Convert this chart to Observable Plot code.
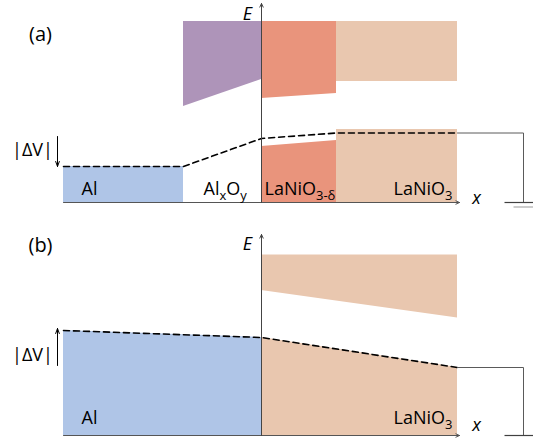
<!DOCTYPE html>
<html>
<head>
<meta charset="utf-8">
<script src="https://cdn.jsdelivr.net/npm/d3@7"></script>
<script src="https://cdn.jsdelivr.net/npm/@observablehq/plot@0.6"></script>
<style>
  html, body { margin: 0; padding: 0; background: #fff; }
  #chart svg { display: block; }
</style>
</head>
<body>
<div id="chart"></div>
<script>
// ---------- Data (x: position, arb. units; E: energy, arb. units) ----------
// Panel (a): Al / AlxOy / LaNiO3-δ / LaNiO3
const layersA = ["Al", "AlxOy", "LaNiO3-δ", "LaNiO3"];
const boundsA = [-19.8, -7.8, 0, 7.5, 19.6];           // layer boundaries along x
// lower (filled) states: [E at left edge, E at right edge]; null = none
const lowerTopA = [[3.6, 3.6], null, [5.6, 6.2], [7.3, 7.3]];
// upper bands: bottom [left,right], top [left,right]
const upperBottomA = [null, [9.6, 12.3], [10.4, 10.9], [12.1, 12.1]];
const upperTopA = [null, [18.1, 18.1], [18.1, 18.1], [18.1, 18.1]];
const fermiXA = [-19.8, -7.8, 0, 7.5, 19.6];
const fermiEA = [3.6, 3.6, 6.4, 6.95, 6.95];
const dVA = [6.6, 3.6];                                  // |ΔV| arrow from -> to

// Panel (b): Al / LaNiO3
const layersB = ["Al", "LaNiO3"];
const boundsB = [-19.8, 0, 19.6];
const lowerTopB = [[10.5, 9.8], [9.8, 6.8]];
const upperBottomB = [null, [14.5, 11.75]];
const upperTopB = [null, [18.05, 18.05]];
const fermiXB = [-19.8, 0, 19.6];
const fermiEB = [10.5, 9.8, 6.8];
const dVB = [7.0, 10.7];

// Labels
const layerLabelsA = ["Al", "Al_{x}O_{y}", "LaNiO_{3-δ}", "LaNiO_{3}"];
const layerLabelsB = ["Al", "LaNiO_{3}"];

// ---------- Styles ----------
const layerColor = {"Al": "#afc5e7", "AlxOy": "#ae94b9", "LaNiO3-δ": "#e9947c", "LaNiO3": "#e9c7af"};
const FONT = "'Open Sans', Lato, sans-serif";

function bandRows(layers, bounds, lowerTop, upperBottom, upperTop) {
  const rows = [];
  layers.forEach((L, i) => {
    const xs = [bounds[i], bounds[i + 1]];
    if (lowerTop[i]) xs.forEach((x, k) => rows.push({id: L + "-low", layer: L, x, lo: 0, hi: lowerTop[i][k]}));
    if (upperBottom[i]) xs.forEach((x, k) => rows.push({id: L + "-up", layer: L, x, lo: upperBottom[i][k], hi: upperTop[i][k]}));
  });
  return rows;
}

function subscriptify(svg) {
  svg.querySelectorAll("text").forEach(t => {
    const s = t.textContent;
    if (!s.includes("_{")) return;
    t.textContent = "";
    let shifted = false;
    for (const p of s.split(/(_\{[^}]*\})/)) {
      if (!p) continue;
      const ts = document.createElementNS("http://www.w3.org/2000/svg", "tspan");
      if (p.startsWith("_{")) {
        ts.textContent = p.slice(2, -1);
        ts.setAttribute("font-size", "13");
        ts.setAttribute("dy", shifted ? "0" : "5");
        shifted = true;
      } else {
        ts.textContent = p;
        if (shifted) { ts.setAttribute("dy", "-5"); shifted = false; }
      }
      t.appendChild(ts);
    }
  });
}

function panel(opts) {
  const {height, yDomain, rows, fermiX, fermiE, dV, tag, labels, labelE, wireE, eTop, layerLeft, lastRight} = opts;
  const fermi = fermiX.map((x, i) => ({x, E: fermiE[i]}));
  const wire = [{x: lastRight, E: wireE}, {x: 26.2, E: wireE}, {x: 26.2, E: 0}];
  const startLabels = labels.slice(0, -1).map((t, i) => ({t, x: layerLeft[i]}));
  const endLabel = [{t: labels[labels.length - 1], x: layerLeft[labels.length - 1]}];
  const svg = Plot.plot({
    width: 533, height,
    marginTop: 0, marginRight: 0, marginBottom: 0, marginLeft: 0,
    x: {domain: [-26.1, 27.2], axis: null},
    y: {domain: yDomain, axis: null},
    color: {type: "identity"},
    style: {fontFamily: FONT, fontSize: "18px", background: "white", color: "black"},
    marks: [
      Plot.areaY(rows, {x: "x", y1: "lo", y2: "hi", z: "id", fill: d => layerColor[d.layer], curve: "linear"}),
      Plot.line(fermi, {x: "x", y: "E", stroke: "black", strokeWidth: 1.6, strokeDasharray: "6,4"}),
      Plot.line(wire, {x: "x", y: "E", stroke: "#5a5a5a", strokeWidth: 1}),
      Plot.link([{x1: 24.3, x2: 27.2, y: 0}], {x1: "x1", x2: "x2", y1: "y", y2: "y", stroke: "#404040", strokeWidth: 1.2}),
      Plot.link([{x1: 25.2, x2: 27.2, y: -0.45}], {x1: "x1", x2: "x2", y1: "y", y2: "y", stroke: "#aaaaaa", strokeWidth: 1.2}),
      // axes
      Plot.arrow([{x1: -19.8, x2: 19.8, y: 0}], {x1: "x1", x2: "x2", y1: "y", y2: "y", stroke: "#555", strokeWidth: 1, headLength: 6, headAngle: 50}),
      Plot.arrow([{x: 0, y1: 0, y2: eTop}], {x1: "x", x2: "x", y1: "y1", y2: "y2", stroke: "#444", strokeWidth: 1, headLength: 6, headAngle: 50}),
      // |ΔV| arrow
      Plot.arrow([{x: -20.4, y1: dV[0], y2: dV[1]}], {x1: "x", x2: "x", y1: "y1", y2: "y2", stroke: "black", strokeWidth: 1, headLength: 8, headAngle: 40}),
      Plot.text(["|ΔV|"], {x: -22.9, y: labelE.dv, text: d => d, fontSize: 18}),
      Plot.text([tag], {x: -22.1, y: labelE.tag, text: d => d, fontSize: 20}),
      Plot.text(["E"], {x: -1.4, y: labelE.e, text: d => d, fontSize: 18, fontStyle: "italic"}),
      Plot.text(["x"], {x: 21.5, y: labelE.x, text: d => d, fontSize: 18, fontStyle: "italic"}),
      Plot.text(startLabels, {x: "x", y: labelE.layer, text: "t", textAnchor: "start", fontSize: 18}),
      Plot.text(endLabel, {x: "x", y: labelE.layer, text: "t", textAnchor: "end", fontSize: 18})
    ]
  });
  subscriptify(svg);
  return svg;
}

const svgA = panel({
  height: 220, yDomain: [-1.8, 20.2],
  rows: bandRows(layersA, boundsA, lowerTopA, upperBottomA, upperTopA),
  fermiX: fermiXA, fermiE: fermiEA, dV: dVA, tag: "(a)",
  labels: layerLabelsA,
  layerLeft: [-18.0, -5.8, 0.3, 19.1],
  labelE: {dv: 5.2, tag: 16.8, e: 18.8, x: 0.4, layer: 1.3},
  wireE: 6.95, eTop: 19.9, lastRight: 19.6
});
const svgB = panel({
  height: 219, yDomain: [-0.4, 21.5],
  rows: bandRows(layersB, boundsB, lowerTopB, upperBottomB, upperTopB),
  fermiX: fermiXB, fermiE: fermiEB, dV: dVB, tag: "(b)",
  labels: layerLabelsB,
  layerLeft: [-18.0, 19.1],
  labelE: {dv: 8.0, tag: 18.95, e: 19.1, x: 1.0, layer: 1.7},
  wireE: 6.8, eTop: 20.1, lastRight: 19.6
});
document.getElementById("chart").append(svgA, svgB);
</script>
</body>
</html>
